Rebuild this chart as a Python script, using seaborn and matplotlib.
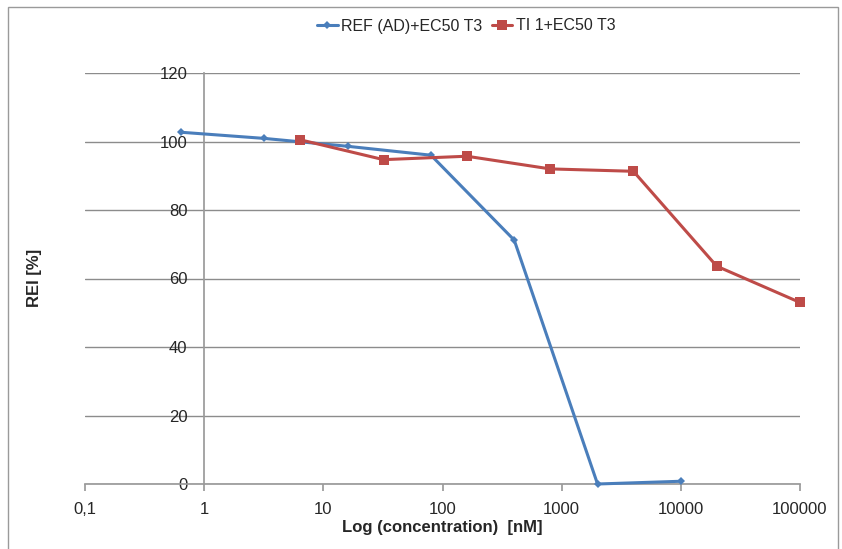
import matplotlib
matplotlib.use("Agg")
import matplotlib.pyplot as plt
import seaborn as sns
import pandas as pd
from matplotlib.patches import Rectangle

# data
ref_conc = [0.64, 3.2, 16, 80, 400, 2000, 10000]
ref_rei = [102.7, 100.9, 98.6, 96.0, 71.2, 0.0, 0.8]
ti_conc = [6.4, 32, 160, 800, 4000, 20000, 100000]
ti_rei = [100.5, 94.7, 95.7, 92.0, 91.3, 63.6, 53.0]
series_names = ["REF (AD)+EC50 T3", "TI 1+EC50 T3"]
x_ticks = [0.1, 1, 10, 100, 1000, 10000, 100000]
x_tick_labels = ["0,1", "1", "10", "100", "1000", "10000", "100000"]
y_ticks = [0, 20, 40, 60, 80, 100, 120]

df = pd.concat([
    pd.DataFrame({"conc": ref_conc, "rei": ref_rei, "series": series_names[0]}),
    pd.DataFrame({"conc": ti_conc, "rei": ti_rei, "series": series_names[1]}),
])

sns.set_theme(style="white")
plt.rcParams["font.family"] = ["Liberation Sans", "DejaVu Sans"]

fig = plt.figure(figsize=(8.42, 5.49), dpi=100)
ax = fig.add_axes([85 / 842, 1 - 484 / 549, (800 - 85) / 842, (484 - 73) / 549])

palette = {series_names[0]: "#4a7ebb", series_names[1]: "#be4b48"}
sns.lineplot(data=df, x="conc", y="rei", hue="series", style="series",
             markers={series_names[0]: "D", series_names[1]: "s"},
             dashes=False, palette=palette, linewidth=2.2, ax=ax, legend=False)
for line, ms in zip(ax.lines, [4.5, 6.5]):
    line.set_markersize(ms)
    line.set_markeredgewidth(0)
    line.set_clip_on(False)
    line.set_zorder(5)

ax.set_xscale("log")
ax.set_xlim(0.1, 100000)
ax.set_ylim(0, 120)
ax.set_xticks(x_ticks)
ax.set_xticklabels(x_tick_labels)
ax.minorticks_off()
ax.set_yticks(y_ticks)
ax.yaxis.grid(True, color="#8c8c8c", linewidth=1)
ax.set_axisbelow(True)

for s in ["top", "right"]:
    ax.spines[s].set_visible(False)
ax.spines["left"].set_position(("data", 1))
ax.spines["left"].set_color("#9a9a9a")
ax.spines["bottom"].set_color("#9a9a9a")
ax.tick_params(axis="x", bottom=True, length=5, color="#9a9a9a", labelsize=12, pad=8)
ax.tick_params(axis="y", left=False, labelsize=12, pad=6)

ax.set_xlabel("Log (concentration)  [nM]", fontsize=12, fontweight="bold", labelpad=2)
ax.set_ylabel("")
fig.text(35 / 842, 1 - 278 / 549, "REI [%]", rotation=90, fontsize=12,
         fontweight="bold", ha="center", va="center")

handles = [plt.Line2D([], [], color=palette[n], marker=m, markersize=ms, linewidth=2.2,
                      markeredgewidth=0)
           for n, m, ms in zip(series_names, ["D", "s"], [4.5, 6.5])]
fig.legend(handles, series_names, loc="center", bbox_to_anchor=(466 / 842, 1 - 26 / 549),
           ncol=2, frameon=False, fontsize=11.5, handlelength=1.3, handletextpad=0.2,
           columnspacing=0.6)

fig.patches.append(Rectangle((8 / 842, -0.01), (838 - 8) / 842, 1 - 7 / 549 + 0.01,
                             transform=fig.transFigure, fill=False,
                             edgecolor="#9a9a9a", linewidth=1))

fig.savefig("out.png", dpi=100)
